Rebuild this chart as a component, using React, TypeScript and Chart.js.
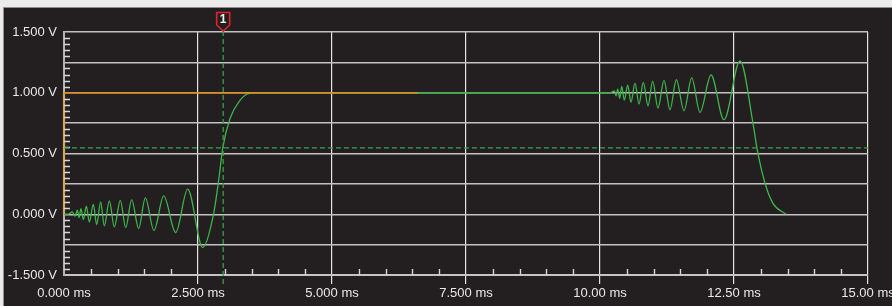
import React, { useEffect, useRef } from 'react';
import { Chart, registerables } from 'chart.js';

Chart.register(...registerables);

// ---- data ----
const sigT = [
  0, 0.08, 0.155, 0.205, 0.249, 0.28, 0.317, 0.361, 0.417, 0.473, 0.547, 0.61, 0.684, 0.752,
  0.846, 0.939, 1.051, 1.151, 1.263, 1.393, 1.517, 1.679, 1.86, 2.084, 2.307, 2.588,
  2.786, 2.898, 2.96, 3.097, 3.284, 3.44, 3.6,
  10.2, 10.267, 10.3, 10.33, 10.367, 10.405, 10.453, 10.517, 10.578, 10.653, 10.728,
  10.808, 10.896, 10.983, 11.082, 11.194, 11.306, 11.424, 11.567, 11.711, 11.866,
  12.071, 12.313, 12.612, 12.86, 12.93, 13.08, 13.23, 13.47,
];
const sigV = [
  0, 0, 0.02, -0.016, 0.033, -0.027, 0.047, -0.044, 0.066, -0.063, 0.082, -0.085, 0.101, -0.096,
  0.11, -0.104, 0.115, -0.11, 0.121, -0.118, 0.134, -0.134, 0.151, -0.151, 0.206, -0.274,
  -0.008, 0.321, 0.541, 0.788, 0.938, 0.993, 1.0,
  1.0, 1.016, 0.975, 1.03, 0.954, 1.053, 0.94, 1.063, 0.921, 1.08, 0.907,
  1.085, 0.893, 1.096, 0.874, 1.102, 0.86, 1.107, 0.852, 1.123, 0.839,
  1.146, 0.778, 1.263, 0.733, 0.54, 0.253, 0.088, 0.0,
];
const refT = [0, 6.6];
const refV = [1.0, 1.0];
const refAxisT = [0, 0];
const refAxisV = [0.0, 1.0];

const xTickLabels = ['0.000 ms', '2.500 ms', '5.000 ms', '7.500 ms', '10.00 ms', '12.50 ms', '15.00 ms'];
const yTickLabels = ['-1.500 V', '', '0.000 V', '', '0.500 V', '', '1.000 V', '', '1.500 V'];

const cursorT = 2.97;
const cursorV = 0.546;
const cursorLabel = '1';

const X_MIN = 0, X_MAX = 15, X_STEP = 2.5, X_MINOR = 0.5;
const Y_MIN = -0.5, Y_MAX = 1.5, Y_STEP = 0.25, Y_MINOR = 0.05;

// ---- styles ----
const BG = '#231f20';
const GREEN = '#3db54a';
const CURSOR_GREEN = '#36a345';
const ORANGE = '#e38d1f';
const ORANGE_AXIS = '#dba35c';
const TEXT = '#e8e8e8';
const FONT = "'Liberation Sans', Arial, Helvetica, sans-serif";

const decorPlugin = {
  id: 'scopeDecor',
  beforeDraw(chart: any) {
    const { ctx, width, height } = chart;
    ctx.save();
    ctx.fillStyle = BG;
    ctx.fillRect(0, 0, width, height);
    ctx.fillStyle = '#ebebeb';
    ctx.fillRect(0, 0, width, 7);
    ctx.fillRect(0, 0, 3, height);
    ctx.fillStyle = '#8f8f8f';
    ctx.fillRect(3, 7, width - 3, 1);
    ctx.fillRect(3, 7, 1, height - 7);
    ctx.restore();
  },
  afterDatasetsDraw(chart: any) {
    const { ctx, chartArea, scales } = chart;
    const xs = scales.x, ys = scales.y;
    const { left, right, top, bottom } = chartArea;
    ctx.save();
    // minor x ticks
    ctx.strokeStyle = '#d6d6d6';
    ctx.lineWidth = 1.4;
    const nx = Math.round((X_MAX - X_MIN) / X_MINOR);
    const per = Math.round(X_STEP / X_MINOR);
    ctx.beginPath();
    for (let i = 1; i < nx; i++) {
      if (i % per === 0) continue;
      const px = Math.round(xs.getPixelForValue(X_MIN + i * X_MINOR)) + 0.5;
      ctx.moveTo(px, bottom - 6);
      ctx.lineTo(px, bottom);
    }
    ctx.stroke();
    // minor y ticks
    const ny = Math.round((Y_MAX - Y_MIN) / Y_MINOR);
    const pery = Math.round(Y_STEP / Y_MINOR);
    ctx.beginPath();
    for (let i = 1; i < ny; i++) {
      if (i % pery === 0) continue;
      const py = Math.round(ys.getPixelForValue(Y_MIN + i * Y_MINOR)) + 0.5;
      ctx.moveTo(left, py);
      ctx.lineTo(left + 6, py);
    }
    ctx.stroke();
    // cursors
    ctx.strokeStyle = CURSOR_GREEN;
    ctx.lineWidth = 1.3;
    ctx.setLineDash([5, 3]);
    const cx = xs.getPixelForValue(cursorT);
    const cy = ys.getPixelForValue(cursorV);
    ctx.beginPath();
    ctx.moveTo(cx, top - 1);
    ctx.lineTo(cx, bottom + 12);
    ctx.moveTo(left, cy);
    ctx.lineTo(right, cy);
    ctx.stroke();
    ctx.setLineDash([]);
    // marker flag
    ctx.beginPath();
    ctx.moveTo(cx - 6.5, 12.5);
    ctx.lineTo(cx + 6.5, 12.5);
    ctx.lineTo(cx + 6.5, 25);
    ctx.lineTo(cx, 31);
    ctx.lineTo(cx - 6.5, 25);
    ctx.closePath();
    ctx.fillStyle = BG;
    ctx.fill();
    ctx.strokeStyle = '#e0242b';
    ctx.lineWidth = 1.6;
    ctx.stroke();
    ctx.fillStyle = '#f2f2f2';
    ctx.font = `bold 12px ${FONT}`;
    ctx.textAlign = 'center';
    ctx.textBaseline = 'middle';
    ctx.fillText(cursorLabel, cx, 20);
    ctx.restore();
  },
};

export default function App() {
  const ref = useRef<HTMLCanvasElement | null>(null);
  useEffect(() => {
    if (!ref.current) return;
    const toXY = (t: number[], v: number[]) => t.map((x, i) => ({ x, y: v[i] }));
    const chart = new Chart(ref.current, {
      type: 'line',
      data: {
        datasets: [
          {
            data: toXY(refT, refV),
            borderColor: ORANGE,
            borderWidth: 1.6,
            pointRadius: 0,
            tension: 0,
          },
          {
            data: toXY(refAxisT, refAxisV),
            borderColor: ORANGE_AXIS,
            borderWidth: 2.2,
            pointRadius: 0,
            clip: false,
          } as any,
          {
            data: toXY(sigT, sigV),
            borderColor: GREEN,
            borderWidth: 1.3,
            pointRadius: 0,
            cubicInterpolationMode: 'monotone',
          },
        ],
      },
      options: {
        animation: false,
        responsive: false,
        maintainAspectRatio: false,
        parsing: false as any,
        layout: { padding: { left: 0, top: 32, right: 24, bottom: 0 } },
        plugins: { legend: { display: false }, tooltip: { enabled: false } },
        scales: {
          x: {
            type: 'linear',
            min: X_MIN,
            max: X_MAX,
            afterFit: (s: any) => {
              s.height = 31;
              s.paddingLeft = 0;
              s.paddingRight = 0;
            },
            border: { display: true, color: '#c4c4c4', width: 2 },
            grid: {
              color: (c: any) => (c.tick && c.tick.value === 0 ? 'rgba(0,0,0,0)' : '#e4e4e4'),
              tickColor: (c: any) => (c.tick && c.tick.value === 0 ? 'rgba(0,0,0,0)' : '#e4e4e4'),
              lineWidth: 1.2,
              tickLength: 9,
              drawTicks: true,
            },
            ticks: {
              stepSize: X_STEP,
              autoSkip: false,
              maxRotation: 0,
              padding: 2,
              color: TEXT,
              font: { family: FONT, size: 13 },
              callback: (_v: any, i: number) => xTickLabels[i],
            },
          },
          y: {
            type: 'linear',
            min: Y_MIN,
            max: Y_MAX,
            afterFit: (s: any) => {
              s.width = 64;
              s.paddingTop = 0;
              s.paddingBottom = 0;
            },
            border: { display: true, color: '#b4b4b4', width: 2 },
            grid: {
              color: '#c2c2c2',
              lineWidth: 1.5,
              drawTicks: false,
            },
            ticks: {
              stepSize: Y_STEP,
              autoSkip: false,
              padding: 7,
              color: TEXT,
              font: { family: FONT, size: 13 },
              callback: (_v: any, i: number) => yTickLabels[i],
            },
          },
        },
      },
      plugins: [decorPlugin],
    } as any);
    return () => chart.destroy();
  }, []);
  return (
    <div style={{ position: 'absolute', left: 0, top: 0, width: 892, height: 306 }}>
      <canvas ref={ref} width={892} height={306} style={{ display: 'block', width: 892, height: 306 }} />
    </div>
  );
}
